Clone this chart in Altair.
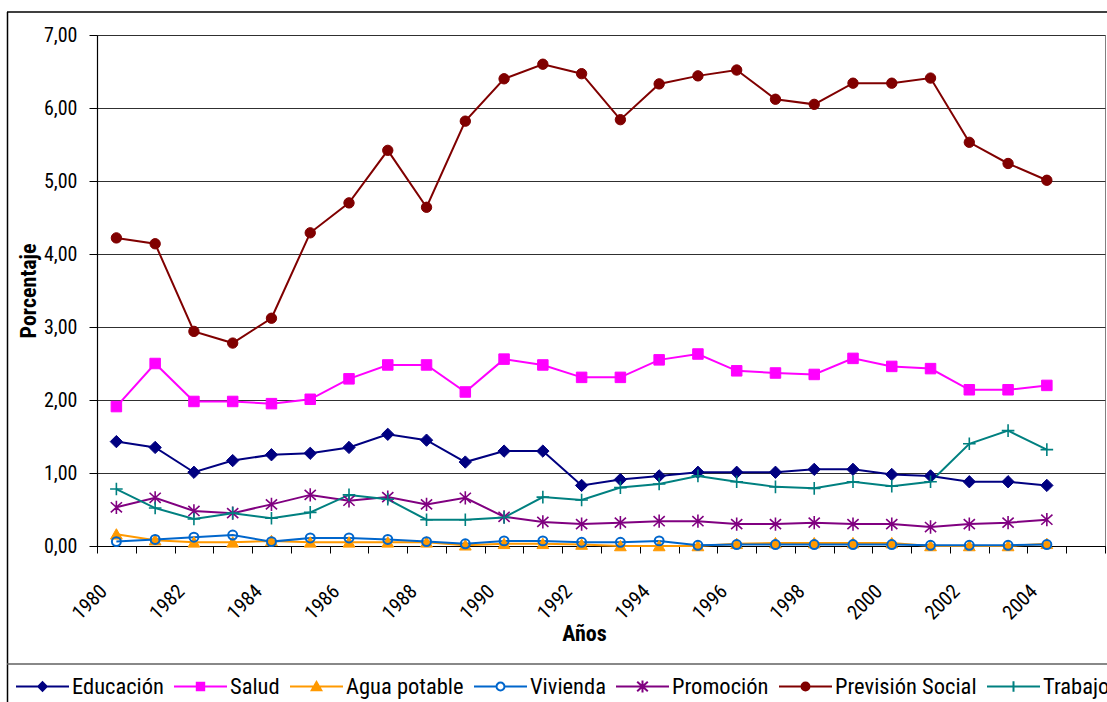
import altair as alt
import pandas as pd

# Años con datos y categorías del eje (el eje deja una categoría vacía al final)
anios = [1980, 1981, 1982, 1983, 1984, 1985, 1986, 1987, 1988, 1989, 1990, 1991, 1992,
         1993, 1994, 1995, 1996, 1997, 1998, 1999, 2000, 2001, 2002, 2003, 2004]
categorias_eje = anios + [2005]

series = ["Educación", "Salud", "Agua potable", "Vivienda", "Promoción",
          "Previsión Social", "Trabajo"]

educacion = [1.43, 1.35, 1.01, 1.17, 1.25, 1.27, 1.35, 1.53, 1.45, 1.15, 1.30, 1.30, 0.83,
             0.91, 0.96, 1.01, 1.01, 1.01, 1.05, 1.05, 0.98, 0.96, 0.88, 0.88, 0.83]
salud = [1.91, 2.50, 1.98, 1.98, 1.95, 2.01, 2.29, 2.48, 2.48, 2.11, 2.56, 2.48, 2.31,
         2.31, 2.55, 2.63, 2.40, 2.37, 2.35, 2.57, 2.46, 2.43, 2.14, 2.14, 2.20]
agua_potable = [0.16, 0.08, 0.05, 0.05, 0.07, 0.05, 0.05, 0.05, 0.05, 0.01, 0.03, 0.03, 0.02,
                0.00, 0.00, 0.00, 0.03, 0.04, 0.04, 0.04, 0.04, 0.00, 0.00, 0.00, 0.03]
vivienda = [0.06, 0.09, 0.12, 0.15, 0.06, 0.11, 0.11, 0.09, 0.06, 0.03, 0.07, 0.07, 0.05,
            0.05, 0.07, 0.01, 0.02, 0.02, 0.02, 0.02, 0.02, 0.01, 0.01, 0.01, 0.02]
promocion = [0.53, 0.66, 0.48, 0.45, 0.57, 0.70, 0.62, 0.67, 0.57, 0.66, 0.40, 0.33, 0.30,
             0.32, 0.34, 0.34, 0.30, 0.30, 0.32, 0.30, 0.30, 0.26, 0.30, 0.32, 0.36]
prevision_social = [4.22, 4.14, 2.94, 2.78, 3.12, 4.29, 4.70, 5.42, 4.64, 5.82, 6.40, 6.60, 6.47,
                    5.84, 6.33, 6.44, 6.52, 6.12, 6.05, 6.34, 6.34, 6.41, 5.53, 5.24, 5.01]
trabajo = [0.78, 0.52, 0.37, 0.45, 0.38, 0.46, 0.70, 0.64, 0.36, 0.36, 0.39, 0.67, 0.63,
           0.80, 0.85, 0.96, 0.88, 0.81, 0.79, 0.88, 0.82, 0.88, 1.40, 1.58, 1.32]

valores_eje_y = [0, 1, 2, 3, 4, 5, 6, 7]

colores = ["#000080", "#FF00FF", "#FF9900", "#0066CC", "#800080", "#800000", "#008080"]

# Marcadores de los puntos del gráfico (caja unitaria [-1, 1])
marcadores = [
    "M0,-0.88L0.88,0L0,0.88L-0.88,0Z",
    "M-0.75,-0.75H0.75V0.75H-0.75Z",
    "M0,-0.8L0.84,0.68L-0.84,0.68Z",
    "M0.64,0A0.64,0.64,0,1,1,-0.64,0A0.64,0.64,0,1,1,0.64,0Z",
    "M0,-0.95V0.95M-0.8,-0.72L0.8,0.72M-0.8,0.72L0.8,-0.72",
    "M0.74,0A0.74,0.74,0,1,1,-0.74,0A0.74,0.74,0,1,1,0.74,0Z",
    "M0,-0.9V0.9M-0.9,0H0.9",
]
rellenos = ["#000080", "#FF00FF", "#FF9900", "transparent", "transparent", "#800000", "transparent"]
grosores = [1, 1, 1, 2, 1.6, 1, 1.6]

# Símbolos de la leyenda: tramo de línea con el marcador al centro
simbolos_leyenda = [
    "M-1,0H1M0,-0.16L0.16,0L0,0.16L-0.16,0Z",
    "M-1,0H1M-0.14,-0.14H0.14V0.14H-0.14Z",
    "M-1,0H1M0,-0.17L0.18,0.14L-0.18,0.14Z",
    "M-1,0H-0.15M0.15,0H1M0.15,0A0.15,0.15,0,1,1,-0.15,0A0.15,0.15,0,1,1,0.15,0Z",
    "M-1,0H1M0,-0.23V0.23M-0.2,-0.18L0.2,0.18M-0.2,0.18L0.2,-0.18",
    "M-1,0H1M0.15,0A0.15,0.15,0,1,1,-0.15,0A0.15,0.15,0,1,1,0.15,0Z",
    "M-1,0H1M0,-0.2V0.2",
]
rellenos_leyenda = ["#000080", "#FF00FF", "#FF9900", "#FFFFFF", "#800080", "#800000", "#008080"]

valores = [educacion, salud, agua_potable, vivienda, promocion, prevision_social, trabajo]
df = pd.DataFrame(
    [{"anio": a, "serie": s, "valor": v}
     for s, vals in zip(series, valores) for a, v in zip(anios, vals)]
)

fuente = "Roboto Condensed, DejaVu Sans Condensed, sans-serif"

eje_x = alt.X(
    "anio:O",
    scale=alt.Scale(domain=categorias_eje, type="band", paddingInner=0, paddingOuter=0),
    axis=alt.Axis(
        title="Años", labelAngle=315, labelAlign="right", labelBaseline="middle",
        labelPadding=35, labelOffset=-13, labelOverlap=False,
        labelExpr="datum.value % 2 == 0 ? datum.value : ''",
        labelFont=fuente, labelFontSize=20, labelColor="#000000",
        tickBand="extent", tickSize=7, tickColor="#000000", tickWidth=1,
        domainColor="#000000", domainWidth=1.2, grid=False,
        titleFont=fuente, titleFontSize=22, titleFontWeight="bold", titleColor="#000000",
        titleX=487, titleY=87, titleBaseline="middle", titleAlign="center",
    ),
)
eje_y = alt.Y(
    "valor:Q",
    scale=alt.Scale(domain=[0, 7], nice=False, zero=True),
    axis=alt.Axis(
        title="Porcentaje", values=valores_eje_y,
        labelExpr="replace(format(datum.value, '.2f'), '.', ',')",
        labelFont=fuente, labelFontSize=20, labelColor="#000000", labelPadding=12,
        tickSize=8, tickColor="#000000", domainColor="#000000", domainWidth=1.2,
        grid=True, gridColor="#303030", gridWidth=1,
        titleFont=fuente, titleFontSize=22, titleFontWeight="bold", titleColor="#000000",
        titleX=-69, titleY=255.5, titleAngle=270, titleBaseline="middle", titleAlign="center",
    ),
)

# Una línea y sus marcadores por serie
capas_lineas = []
capas_puntos = []
for serie, color, ruta, relleno, grosor in zip(series, colores, marcadores, rellenos, grosores):
    base = alt.Chart(df).transform_filter(alt.datum.serie == serie)
    capas_lineas.append(
        base.mark_line(stroke=color, strokeWidth=2).encode(x=eje_x, y=eje_y)
    )
    capas_puntos.append(
        base.mark_point(shape=ruta, size=196, fill=relleno, stroke=color,
                        strokeWidth=grosor, opacity=1, fillOpacity=1)
        .encode(x=eje_x, y=eje_y)
    )

# Capa que solo aporta la leyenda (sus puntos quedan fuera del lienzo)
leyenda = alt.Legend(
    title=None, orient="none", direction="horizontal", legendX=-82, legendY=624,
    symbolSize=2809, symbolStrokeWidth=2, symbolOpacity=1,
    labelFont=fuente, labelFontSize=22.5, labelColor="#000000", labelOffset=2,
    labelLimit=400, columnPadding=6, padding=0,
)
capa_leyenda = (
    alt.Chart(df)
    .mark_point(opacity=1, filled=True)
    .encode(
        x=alt.value(-5000),
        y=alt.value(-5000),
        shape=alt.Shape("serie:N", scale=alt.Scale(domain=series, range=simbolos_leyenda), legend=leyenda),
        fill=alt.Fill("serie:N", scale=alt.Scale(domain=series, range=rellenos_leyenda), legend=leyenda),
        stroke=alt.Stroke("serie:N", scale=alt.Scale(domain=series, range=colores), legend=leyenda),
    )
)

# Marco del área del gráfico y separación de la leyenda
uno = pd.DataFrame({"k": [0]})
marco_izq = alt.Chart(uno).mark_rule(color="#000000", strokeWidth=1.5).encode(
    x=alt.value(-89.5), y=alt.value(-23), y2=alt.value(680))
marco_sup = alt.Chart(uno).mark_rule(color="#000000", strokeWidth=1.5).encode(
    x=alt.value(-90), x2=alt.value(1020), y=alt.value(-23))
linea_leyenda = alt.Chart(uno).mark_rule(color="#606060", strokeWidth=1.5).encode(
    x=alt.value(-90), x2=alt.value(1020), y=alt.value(629))

chart = (
    alt.layer(marco_izq, marco_sup, linea_leyenda, *capas_lineas, *capas_puntos, capa_leyenda)
    .properties(
        width=1008, height=511,
        padding={"left": 97, "top": 35, "right": 2, "bottom": 156},
        autosize=alt.AutoSizeParams(type="none"),
        background="#FFFFFF",
    )
    .configure_view(stroke="#808080", strokeWidth=1)
)

chart.save("out.html", embed_options={"renderer": "svg", "actions": False})
